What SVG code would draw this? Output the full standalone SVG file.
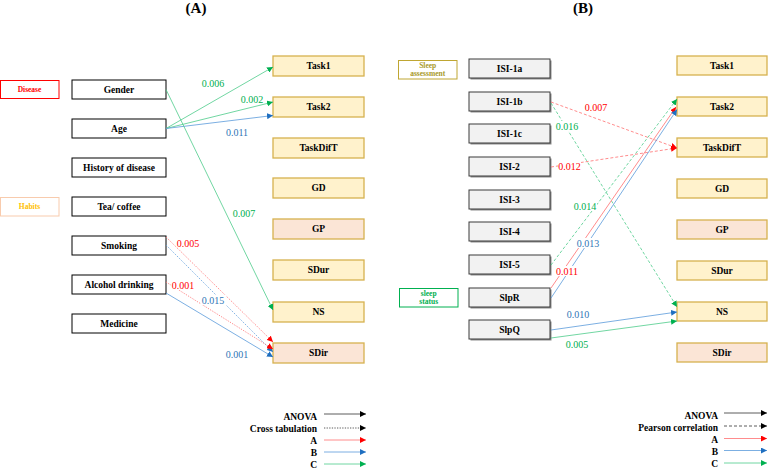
<svg xmlns="http://www.w3.org/2000/svg" width="768" height="468" viewBox="0 0 768 468">
  <style>
    text { font-family: "Liberation Serif", "Times New Roman", serif; }
    .title { font-size: 15px; font-weight: bold; text-anchor: middle; fill: #000; }
    .node rect { fill: #fff; stroke: #000; stroke-width: 1; }
    .node text { font-size: 9.5px; font-weight: bold; text-anchor: middle; fill: #000; }
    .isi rect.box { fill: #F2F2F2; stroke: #3a3a3a; stroke-width: 1; }
    .isi rect.sh { fill: #8c8c8c; stroke: none; }
    .out rect { fill: #FFF2CC; stroke: #D6B14F; stroke-width: 1.3; }
    .out.peach rect { fill: #FBE5D6; }
    .cat text { font-size: 7.5px; font-weight: bold; text-anchor: middle; }
    .lbl { font-size: 10px; text-anchor: middle; }
    .bg { fill: #fff; }
    .red { stroke: #FF6E70; }
    .blue { stroke: #5A9BDB; }
    .green { stroke: #4CCB8A; }
    .blk { stroke: #333; }
    .conn line { fill: none; stroke-width: 0.8; }
    .dot { stroke-dasharray: 1.3 1.3; }
    .dash { stroke-dasharray: 3 2; }
    .tr { fill: #FF0000; }
    .tb { fill: #2E75B6; }
    .tg { fill: #00B050; }
    .leg text { font-size: 9.5px; font-weight: bold; text-anchor: end; fill: #000; }
  </style>
  <defs>
    <marker id="ah-k" viewBox="0 0 6 6" refX="6" refY="3" markerWidth="6" markerHeight="6" markerUnits="userSpaceOnUse" orient="auto"><path d="M0,0 L6,3 L0,6 z" fill="#000"/></marker>
    <marker id="ah-r" viewBox="0 0 6 6" refX="6" refY="3" markerWidth="6" markerHeight="6" markerUnits="userSpaceOnUse" orient="auto"><path d="M0,0 L6,3 L0,6 z" fill="#FF0000"/></marker>
    <marker id="ah-b" viewBox="0 0 6 6" refX="6" refY="3" markerWidth="6" markerHeight="6" markerUnits="userSpaceOnUse" orient="auto"><path d="M0,0 L6,3 L0,6 z" fill="#1F6FC0"/></marker>
    <marker id="ah-g" viewBox="0 0 6 6" refX="6" refY="3" markerWidth="6" markerHeight="6" markerUnits="userSpaceOnUse" orient="auto"><path d="M0,0 L6,3 L0,6 z" fill="#00B050"/></marker>
  </defs>

  <rect width="768" height="468" fill="#fff"/>

  <!-- panel titles -->
  <text class="title" x="196" y="13">(A)</text>
  <text class="title" x="583" y="13">(B)</text>

  <!-- ===== Panel A: category tags ===== -->
  <g id="cat-disease" class="cat">
    <rect x="0.5" y="80.5" width="58.5" height="18" fill="#fff" stroke="#FF0000" stroke-width="1"/>
    <text x="29.5" y="92" fill="#FF0000">Disease</text>
  </g>
  <g id="cat-habits" class="cat">
    <rect x="0.5" y="197.5" width="58.5" height="18.5" fill="#fff" stroke="#F8CBAD" stroke-width="1"/>
    <text x="29.5" y="209" fill="#FFC000">Habits</text>
  </g>

  <!-- ===== Panel A: factor nodes ===== -->
  <g id="a-gender" class="node"><rect x="72" y="80" width="94" height="19"/><text x="119" y="92.8">Gender</text></g>
  <g id="a-age" class="node"><rect x="72" y="119" width="94" height="19"/><text x="119" y="131.8">Age</text></g>
  <g id="a-history" class="node"><rect x="72" y="158" width="94" height="19"/><text x="119" y="170.8">History of disease</text></g>
  <g id="a-tea" class="node"><rect x="72" y="197" width="94" height="19"/><text x="119" y="209.8">Tea/ coffee</text></g>
  <g id="a-smoking" class="node"><rect x="72" y="236" width="94" height="19"/><text x="119" y="248.8">Smoking</text></g>
  <g id="a-alcohol" class="node"><rect x="72" y="275" width="94" height="19"/><text x="119" y="287.8">Alcohol drinking</text></g>
  <g id="a-medicine" class="node"><rect x="72" y="314" width="94" height="19"/><text x="119" y="326.8">Medicine</text></g>

  <!-- ===== Panel A: outcome nodes ===== -->
  <g id="a-task1" class="node out"><rect x="273" y="56" width="91" height="20"/><text x="318.5" y="69.3">Task1</text></g>
  <g id="a-task2" class="node out"><rect x="273" y="97" width="91" height="20"/><text x="318.5" y="110.3">Task2</text></g>
  <g id="a-taskdift" class="node out"><rect x="273" y="138" width="91" height="20"/><text x="318.5" y="151.3">TaskDifT</text></g>
  <g id="a-gd" class="node out"><rect x="273" y="178" width="91" height="20"/><text x="318.5" y="191.3">GD</text></g>
  <g id="a-gp" class="node out peach"><rect x="273" y="219" width="91" height="20"/><text x="318.5" y="232.3">GP</text></g>
  <g id="a-sdur" class="node out"><rect x="273" y="260" width="91" height="20"/><text x="318.5" y="273.3">SDur</text></g>
  <g id="a-ns" class="node out"><rect x="273" y="302" width="91" height="20"/><text x="318.5" y="315.3">NS</text></g>
  <g id="a-sdir" class="node out peach"><rect x="273" y="343" width="91" height="20"/><text x="318.5" y="356.3">SDir</text></g>

  <!-- ===== Panel B: category tags ===== -->
  <g id="cat-sleep-assessment" class="cat">
    <rect x="398.5" y="60.5" width="58.5" height="18.5" fill="#fff" stroke="#BFA632" stroke-width="1"/>
    <text x="427.7" y="67.5" fill="#A89A2A" font-size="7">Sleep</text>
    <text x="427.7" y="75.5" fill="#A89A2A" font-size="7">assessment</text>
  </g>
  <g id="cat-sleep-status" class="cat">
    <rect x="399.5" y="288.5" width="58.5" height="18.5" fill="#fff" stroke="#00B050" stroke-width="1"/>
    <text x="428.7" y="295.5" fill="#00B050" font-size="7">sleep</text>
    <text x="428.7" y="303.5" fill="#00B050" font-size="7">status</text>
  </g>

  <!-- ===== Panel B: sleep measures ===== -->
  <g id="b-isi1a" class="node isi"><rect class="sh" x="470.5" y="60.5" width="81" height="19"/><rect class="box" x="469" y="59" width="81" height="19"/><text x="509.5" y="71.8">ISI-1a</text></g>
  <g id="b-isi1b" class="node isi"><rect class="sh" x="470.5" y="93.5" width="81" height="19"/><rect class="box" x="469" y="92" width="81" height="19"/><text x="509.5" y="104.8">ISI-1b</text></g>
  <g id="b-isi1c" class="node isi"><rect class="sh" x="470.5" y="125.5" width="81" height="19"/><rect class="box" x="469" y="124" width="81" height="19"/><text x="509.5" y="136.8">ISI-1c</text></g>
  <g id="b-isi2" class="node isi"><rect class="sh" x="470.5" y="158.5" width="81" height="19"/><rect class="box" x="469" y="157" width="81" height="19"/><text x="509.5" y="169.8">ISI-2</text></g>
  <g id="b-isi3" class="node isi"><rect class="sh" x="470.5" y="191.5" width="81" height="19"/><rect class="box" x="469" y="190" width="81" height="19"/><text x="509.5" y="202.8">ISI-3</text></g>
  <g id="b-isi4" class="node isi"><rect class="sh" x="470.5" y="223.5" width="81" height="19"/><rect class="box" x="469" y="222" width="81" height="19"/><text x="509.5" y="234.8">ISI-4</text></g>
  <g id="b-isi5" class="node isi"><rect class="sh" x="470.5" y="256.5" width="81" height="19"/><rect class="box" x="469" y="255" width="81" height="19"/><text x="509.5" y="267.8">ISI-5</text></g>
  <g id="b-slpr" class="node isi"><rect class="sh" x="470.5" y="289.5" width="81" height="19"/><rect class="box" x="469" y="288" width="81" height="19"/><text x="509.5" y="300.8">SlpR</text></g>
  <g id="b-slpq" class="node isi"><rect class="sh" x="470.5" y="321.5" width="81" height="19"/><rect class="box" x="469" y="320" width="81" height="19"/><text x="509.5" y="332.8">SlpQ</text></g>

  <!-- ===== Panel B: outcome nodes ===== -->
  <g id="b-task1" class="node out"><rect x="677" y="56" width="90" height="19"/><text x="722" y="68.8">Task1</text></g>
  <g id="b-task2" class="node out"><rect x="677" y="97" width="90" height="19"/><text x="722" y="109.8">Task2</text></g>
  <g id="b-taskdift" class="node out"><rect x="677" y="138" width="90" height="19"/><text x="722" y="150.8">TaskDifT</text></g>
  <g id="b-gd" class="node out"><rect x="677" y="179" width="90" height="19"/><text x="722" y="191.8">GD</text></g>
  <g id="b-gp" class="node out peach"><rect x="677" y="220" width="90" height="19"/><text x="722" y="232.8">GP</text></g>
  <g id="b-sdur" class="node out"><rect x="677" y="261" width="90" height="19"/><text x="722" y="273.8">SDur</text></g>
  <g id="b-ns" class="node out"><rect x="677" y="302" width="90" height="19"/><text x="722" y="314.8">NS</text></g>
  <g id="b-sdir" class="node out peach"><rect x="677" y="343" width="90" height="19"/><text x="722" y="355.8">SDir</text></g>

  <!-- ===== connectors ===== -->
  <g id="connectors" class="conn">
    <!-- panel A -->
    <line class="green" x1="166" y1="128.5" x2="273" y2="67" marker-end="url(#ah-g)"/>
    <line class="green" x1="166" y1="128.5" x2="273" y2="102" marker-end="url(#ah-g)"/>
    <line class="blue" x1="166" y1="128.5" x2="273" y2="115.5" marker-end="url(#ah-b)"/>
    <line class="green" x1="166" y1="89.5" x2="273" y2="310" marker-end="url(#ah-g)"/>
    <line class="red dot" x1="166" y1="237" x2="273" y2="342" marker-end="url(#ah-r)"/>
    <line class="blue dot" x1="166" y1="245" x2="273" y2="352" marker-end="url(#ah-b)"/>
    <line class="red dot" x1="166" y1="282" x2="273" y2="349" marker-end="url(#ah-r)"/>
    <line class="blue" x1="166" y1="293" x2="273" y2="357" marker-end="url(#ah-b)"/>
    <!-- panel B -->
    <line class="red dash" x1="551" y1="102" x2="677" y2="148" marker-end="url(#ah-r)"/>
    <line class="green dash" x1="551" y1="103" x2="677" y2="307" marker-end="url(#ah-g)"/>
    <line class="red dash" x1="551" y1="167" x2="677" y2="148" marker-end="url(#ah-r)"/>
    <line class="green dash" x1="551" y1="265" x2="677" y2="99" marker-end="url(#ah-g)"/>
    <line class="red" x1="551" y1="288" x2="676" y2="107" marker-end="url(#ah-r)"/>
    <line class="blue" x1="551" y1="298" x2="677" y2="109.5" marker-end="url(#ah-b)"/>
    <line class="blue" x1="551" y1="330" x2="677" y2="312" marker-end="url(#ah-b)"/>
    <line class="green" x1="551" y1="338" x2="677" y2="321" marker-end="url(#ah-g)"/>
  </g>

  <!-- ===== connector labels ===== -->
  <g id="labels">
    <text class="lbl tg" x="213" y="86.5">0.006</text>
    <text class="lbl tg" x="252" y="102.5">0.002</text>
    <text class="lbl tb" x="237" y="135.5">0.011</text>
    <text class="lbl tg" x="244" y="216.5">0.007</text>
    <text class="lbl tr" x="188" y="246.5">0.005</text>
    <rect class="bg" x="171" y="280" width="24" height="10"/>
    <text class="lbl tr" x="183" y="288.5">0.001</text>
    <rect class="bg" x="201" y="295" width="25" height="10"/>
    <text class="lbl tb" x="213" y="303.5">0.015</text>
    <text class="lbl tb" x="237" y="357.5">0.001</text>

    <text class="lbl tr" x="596" y="110.5">0.007</text>
    <rect class="bg" x="556" y="121" width="23" height="10"/>
    <text class="lbl tg" x="567" y="129.5">0.016</text>
    <rect class="bg" x="558" y="161" width="23" height="10"/>
    <text class="lbl tr" x="569.5" y="169.5">0.012</text>
    <rect class="bg" x="574" y="201" width="23" height="10"/>
    <text class="lbl tg" x="585" y="209.5">0.014</text>
    <rect class="bg" x="577" y="238" width="23" height="10"/>
    <text class="lbl tb" x="588" y="246.5">0.013</text>
    <rect class="bg" x="556" y="266" width="23" height="10"/>
    <text class="lbl tr" x="567" y="274.5">0.011</text>
    <text class="lbl tb" x="578" y="317.5">0.010</text>
    <text class="lbl tg" x="577" y="347.5">0.005</text>
  </g>

  <!-- ===== legends ===== -->
  <g id="legend-a" class="leg conn">
    <text x="317" y="420">ANOVA</text>
    <line class="blk" x1="324" y1="414" x2="366" y2="414" marker-end="url(#ah-k)"/>
    <text x="317" y="431.5">Cross tabulation</text>
    <line class="blk dot" x1="324" y1="428" x2="366" y2="428" marker-end="url(#ah-k)"/>
    <text x="317" y="443.5">A</text>
    <line class="red" x1="324" y1="440" x2="366" y2="440" marker-end="url(#ah-r)"/>
    <text x="317" y="455.5">B</text>
    <line class="blue" x1="324" y1="452" x2="366" y2="452" marker-end="url(#ah-b)"/>
    <text x="317" y="467.5">C</text>
    <line class="green" x1="324" y1="464" x2="366" y2="464" marker-end="url(#ah-g)"/>
  </g>
  <g id="legend-b" class="leg conn">
    <text x="718" y="418.5">ANOVA</text>
    <line class="blk" x1="724" y1="413" x2="767" y2="413" marker-end="url(#ah-k)"/>
    <text x="718" y="430.5">Pearson correlation</text>
    <line class="blk dash" x1="724" y1="426" x2="767" y2="426" marker-end="url(#ah-k)"/>
    <text x="718" y="443">A</text>
    <line class="red" x1="724" y1="438.5" x2="767" y2="438.5" marker-end="url(#ah-r)"/>
    <text x="718" y="455">B</text>
    <line class="blue" x1="724" y1="450.5" x2="767" y2="450.5" marker-end="url(#ah-b)"/>
    <text x="718" y="467">C</text>
    <line class="green" x1="724" y1="463" x2="767" y2="463" marker-end="url(#ah-g)"/>
  </g>
</svg>
